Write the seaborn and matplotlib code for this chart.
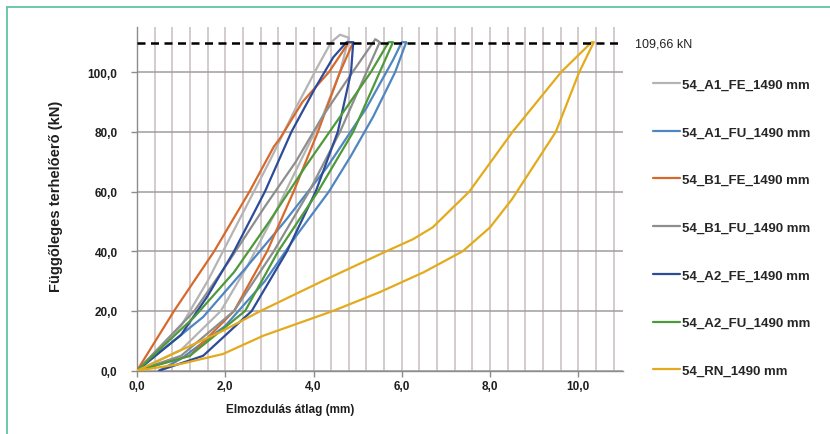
"""Load-displacement loops for the 1490 mm specimens."""

import matplotlib

matplotlib.use("Agg")

import matplotlib.pyplot as plt
import numpy as np
import pandas as pd
import seaborn as sns
from matplotlib.lines import Line2D
from matplotlib.ticker import FuncFormatter, MultipleLocator

# --- data (x in mm, y in kN) ------------------------------------------------
names = [
    "54_A1_FE_1490 mm",
    "54_A1_FU_1490 mm",
    "54_B1_FE_1490 mm",
    "54_B1_FU_1490 mm",
    "54_A2_FE_1490 mm",
    "54_A2_FU_1490 mm",
    "54_RN_1490 mm",
]
colors = ["#B4B4B4", "#4F86C2", "#D8692C", "#8E8E8E", "#2C4C9A", "#4E9A3A", "#E3AB1C"]

a1_fe_x = [0, 1.0, 1.9, 2.5, 3.1, 3.7, 4.2, 4.6, 4.8, 4.6, 4.4, 4.1, 3.6, 3.0, 2.3, 1.6, 1.0, 0]
a1_fe_y = [0, 7, 20, 35, 52, 70, 85, 100, 111.5, 112.5, 110, 102, 88, 70, 50, 30, 15, 0]

a1_fu_x = [0.5, 1.0, 2.0, 2.9, 3.6, 4.35, 4.85, 5.35, 5.85, 6.1, 6.0, 5.8, 5.2, 4.3, 3.35, 2.5, 1.5, 0]
a1_fu_y = [0, 4, 15, 30, 45, 60, 72, 85, 100, 110, 110, 104, 88, 68, 50, 35, 18, 0]

b1_fe_x = [0, 1.2, 2.2, 2.95, 3.55, 4.1, 4.6, 4.9, 4.8, 4.35, 3.75, 3.25, 3.1, 2.55, 1.75, 0.84, 0]
b1_fe_y = [0, 5, 20, 40, 60, 80, 100, 110, 110, 100, 90, 78, 75, 60, 40, 20, 0]

b1_fu_x = [0, 1.0, 2.2, 3.1, 3.9, 4.6, 5.2, 5.5, 5.4, 4.7, 4.2, 3.6, 2.9, 2.1, 1.3, 0]
b1_fu_y = [0, 5, 20, 40, 60, 80, 100, 110, 111, 96, 85, 70, 55, 37, 20, 0]

a2_fe_x = [0.5, 1.5, 2.6, 3.4, 4.05, 4.55, 4.85, 4.9, 4.75, 4.45, 4.05, 3.5, 2.9, 2.2, 1.6, 1.0, 0]
a2_fe_y = [0, 5, 20, 40, 60, 80, 100, 110, 110, 105, 95, 80, 60, 40, 25, 12, 0]

a2_fu_x = [0, 1.2, 2.45, 3.2, 4.1, 4.9, 5.5, 5.8, 5.7, 5.3, 4.6, 3.8, 3.0, 2.2, 1.3, 0]
a2_fu_y = [0, 5, 20, 40, 60, 80, 100, 110, 110, 100, 85, 68, 50, 33, 18, 0]

rn_x = [0, 0.97, 1.95, 2.86, 4.44, 5.5, 6.5, 7.38, 8.0, 8.5, 9.49, 10.02, 10.35,
        10.3, 9.61, 8.51, 7.53, 6.7, 6.25, 5.65, 4.2, 2.8, 1.95, 0.97, 0]
rn_y = [0, 2.2, 5.6, 11.7, 20, 26.3, 33, 40, 48, 57.5, 80, 100, 110,
        110, 100, 80, 60, 48, 44, 40, 30, 20, 13.4, 6.7, 0]

max_load = 109.66

series_x = [a1_fe_x, a1_fu_x, b1_fe_x, b1_fu_x, a2_fe_x, a2_fu_x, rn_x]
series_y = [a1_fe_y, a1_fu_y, b1_fe_y, b1_fu_y, a2_fe_y, a2_fu_y, rn_y]

frames = []
for name, xs, ys in zip(names, series_x, series_y):
    frames.append(pd.DataFrame({"x": xs, "y": ys, "specimen": name, "step": np.arange(len(xs))}))
df = pd.concat(frames, ignore_index=True)

# --- style -----------------------------------------------------------------
sns.set_theme(style="white")
plt.rcParams["font.family"] = ["Liberation Sans", "DejaVu Sans"]

fig = plt.figure(figsize=(8.3, 4.35), dpi=100)
ax = fig.add_axes([0.165, 0.1455, 0.585, 0.7895])

sns.lineplot(
    data=df,
    x="x",
    y="y",
    hue="specimen",
    hue_order=names,
    palette=dict(zip(names, colors)),
    sort=False,
    estimator=None,
    linewidth=1.6,
    ax=ax,
    zorder=3,
)

ax.axhline(max_load, color="black", linestyle=(0, (3.2, 2.2)), linewidth=1.8, zorder=4)
ax.text(1.025, max_load, f"{max_load:.2f} kN".replace(".", ","), transform=ax.get_yaxis_transform(),
        va="center", ha="left", fontsize=9, color="#222222")

ax.set_xlim(0, 11)
ax.set_ylim(0, 115)
ax.xaxis.set_major_locator(MultipleLocator(2))
ax.xaxis.set_minor_locator(MultipleLocator(0.4))
ax.yaxis.set_major_locator(MultipleLocator(20))
fmt = FuncFormatter(lambda v, p: f"{v:.1f}".replace(".", ","))
ax.xaxis.set_major_formatter(fmt)
ax.yaxis.set_major_formatter(fmt)

ax.grid(False)
ax.grid(True, axis="x", which="both", color="#CDC4C4", linewidth=1.2, zorder=0)
ax.grid(True, axis="y", which="major", color="#A39C9C", linewidth=1.1, zorder=0)
ax.set_axisbelow(True)

for side in ["top", "right"]:
    ax.spines[side].set_visible(False)
for side in ["left", "bottom"]:
    ax.spines[side].set_color("#8C8C8C")
    ax.spines[side].set_linewidth(1.0)

ax.tick_params(axis="both", which="major", direction="out", length=4, width=1, color="#8C8C8C",
               labelsize=8.5, labelcolor="#1E1E1E", left=True, bottom=True)
ax.tick_params(axis="y", which="major", pad=10)
ax.tick_params(axis="x", which="major", pad=3)
ax.tick_params(axis="x", which="minor", length=0)
for lab in ax.get_xticklabels() + ax.get_yticklabels():
    lab.set_fontweight("bold")

ax.set_xlabel("Elmozdulás átlag (mm)", fontsize=8.5, fontweight="bold", color="#1E1E1E")
ax.set_ylabel("Függőleges terhelőerő (kN)", fontsize=10.5, fontweight="bold", color="#1E1E1E")
ax.xaxis.set_label_coords(0.315, -0.095)
ax.yaxis.set_label_coords(-0.152, 0.51)

ax.legend(
    loc="upper left",
    bbox_to_anchor=(0.787, 0.8175),
    bbox_transform=fig.transFigure,
    frameon=False,
    borderpad=0,
    borderaxespad=0,
    handlelength=2.05,
    handletextpad=0.15,
    labelspacing=2.69,
    prop={"size": 9.5, "weight": "bold"},
)

# thin green frame of the source figure
fig.add_artist(Line2D([0.0084, 0.0084], [0.0, 0.9816], transform=fig.transFigure, color="#63C4A0", lw=1.3))
fig.add_artist(Line2D([0.0084, 1.0], [0.9816, 0.9816], transform=fig.transFigure, color="#63C4A0", lw=1.3))

fig.savefig("out.png", dpi=100)
